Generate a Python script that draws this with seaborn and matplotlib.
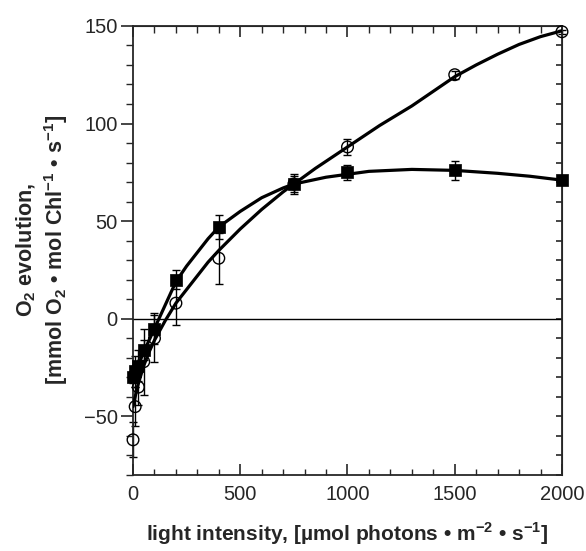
import numpy as np
import pandas as pd
import seaborn as sns
import matplotlib.pyplot as plt
from matplotlib.ticker import MultipleLocator

# measured points (filled squares)
sq_x = [0, 10, 25, 50, 100, 200, 400, 750, 1000, 1500, 2000]
sq_y = [-30, -27, -24, -16, -5, 20, 47, 69, 75, 76, 71]
sq_err = [3, 8, 8, 5, 8, 5, 6, 5, 4, 5, 2]

# measured points (open circles)
ci_x = [0, 10, 25, 50, 100, 200, 400, 750, 1000, 1500, 2000]
ci_y = [-62, -45, -35, -22, -10, 8, 31, 69, 88, 125, 147]
ci_err = [9, 10, 9, 17, 12, 11, 13, 4, 4, 2, 1]

# fitted curves
sq_fit_x = [0, 20, 50, 75, 100, 150, 200, 250, 300, 350, 400, 500, 600, 700, 750,
            900, 1100, 1300, 1500, 1700, 1850, 2000]
sq_fit_y = [-31, -25, -17, -11, -5, 7, 19, 27, 34, 41, 47, 55, 62, 67, 69,
            72.5, 75.5, 76.5, 76, 74.5, 73, 71]
ci_fit_x = [0, 20, 50, 75, 100, 150, 200, 250, 300, 350, 400, 500, 600, 700, 750,
            850, 1000, 1150, 1300, 1400, 1500, 1600, 1700, 1800, 1900, 2000]
ci_fit_y = [-45, -35, -24, -17, -11, -1, 8, 15, 22, 29, 35, 46, 56, 65, 69,
            77, 88, 99, 109, 116.5, 124, 130, 135.5, 140.5, 144.5, 147.5]

sns.set_style("ticks")
plt.rcParams['font.family'] = ['Liberation Sans', 'DejaVu Sans']
plt.rcParams['mathtext.fontset'] = 'custom'
plt.rcParams['mathtext.rm'] = 'Liberation Sans'
plt.rcParams['mathtext.bf'] = 'Liberation Sans:bold'

fig = plt.figure(figsize=(5.86, 5.51), dpi=100)
ax = fig.add_axes([0.227, 0.138, 0.732, 0.815])

ax.axhline(0, color='black', lw=1.0, zorder=1)

sns.lineplot(data=pd.DataFrame({'x': sq_fit_x, 'y': sq_fit_y}), x='x', y='y',
             color='black', lw=2.3, ax=ax, zorder=3)
sns.lineplot(data=pd.DataFrame({'x': ci_fit_x, 'y': ci_fit_y}), x='x', y='y',
             color='black', lw=2.3, ax=ax, zorder=3)

ax.errorbar(ci_x, ci_y, yerr=ci_err, fmt='none', ecolor='black', elinewidth=1,
            capsize=3, capthick=1, zorder=2, clip_on=False)
ax.errorbar(sq_x, sq_y, yerr=sq_err, fmt='none', ecolor='black', elinewidth=1,
            capsize=3, capthick=1, zorder=2, clip_on=False)

sns.scatterplot(x=ci_x, y=ci_y, marker='o', s=70, facecolor='none',
                edgecolor='black', linewidth=1.0, ax=ax, zorder=4, clip_on=False)
sns.scatterplot(x=sq_x, y=sq_y, marker='s', s=70, color='black',
                edgecolor='black', linewidth=0.5, ax=ax, zorder=5, clip_on=False)

ax.set_xlim(0, 2000)
ax.set_ylim(-80, 150)
ax.xaxis.set_major_locator(MultipleLocator(500))
ax.xaxis.set_minor_locator(MultipleLocator(100))
ax.yaxis.set_major_locator(MultipleLocator(50))
ax.yaxis.set_minor_locator(MultipleLocator(10))

for s in ax.spines.values():
    s.set_linewidth(1.3)
    s.set_visible(True)

ax.tick_params(axis='x', which='major', direction='in', length=8, width=1.2,
               labelsize=14.5, pad=7)
ax.tick_params(axis='x', which='minor', direction='in', length=4, width=1.0)
ax.tick_params(axis='y', which='major', direction='out', length=9, width=1.2,
               labelsize=14.5, pad=2)
ax.tick_params(axis='y', which='minor', direction='out', length=5, width=1.0)

top = ax.secondary_xaxis('top')
top.xaxis.set_major_locator(MultipleLocator(500))
top.xaxis.set_minor_locator(MultipleLocator(100))
top.tick_params(which='major', direction='in', length=8, width=1.2, labeltop=False)
top.tick_params(which='minor', direction='in', length=5, width=1.0)

right = ax.secondary_yaxis('right')
right.yaxis.set_major_locator(MultipleLocator(10))
right.tick_params(which='major', direction='in', length=4, width=1.2, labelright=False)

ax.set_xlabel('light intensity, [µmol photons • m$^{\\mathbf{-2}}$ • s$^{\\mathbf{-1}}$]',
              fontsize=15, fontweight='bold', labelpad=12)
ax.set_ylabel('O$_{\\mathbf{2}}$ evolution,\n[mmol O$_{\\mathbf{2}}$ • mol Chl$^{\\mathbf{-1}}$ • s$^{\\mathbf{-1}}$]',
              fontsize=15.5, fontweight='bold', labelpad=10)

fig.savefig('out.png', dpi=100)
